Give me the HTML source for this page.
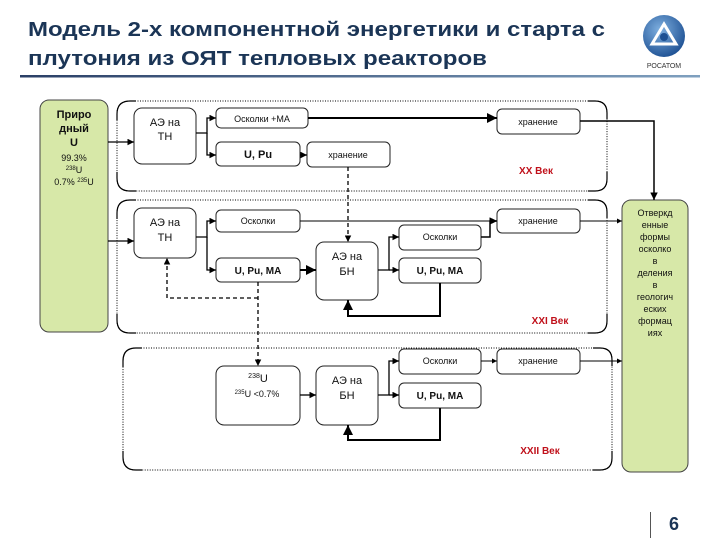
<!DOCTYPE html>
<html><head><meta charset="utf-8"><style>
body{margin:0;width:720px;height:540px;background:#fff;overflow:hidden}
svg{display:block}
text{font-family:"Liberation Sans","DejaVu Sans",sans-serif}
</style></head><body>
<svg width="720" height="540" viewBox="0 0 720 540" xmlns="http://www.w3.org/2000/svg">
<defs>
<marker id="a" viewBox="0 0 10 10" refX="10" refY="5" markerWidth="5" markerHeight="5" orient="auto"><path d="M0,0L10,5L0,10z" fill="#000"/></marker>
<linearGradient id="g" x1="0" x2="1"><stop offset="0" stop-color="#2a3f66"/><stop offset="1" stop-color="#7fa0bf"/></linearGradient>
<radialGradient id="lg" cx="0.4" cy="0.35" r="0.7"><stop offset="0" stop-color="#7fb0e0"/><stop offset="1" stop-color="#1c4f92"/></radialGradient>
</defs>
<text x="28" y="36" font-size="20" font-weight="bold" fill="#1b3556" textLength="577" lengthAdjust="spacingAndGlyphs">Модель 2-х компонентной энергетики и старта с</text>
<text x="28" y="65" font-size="20" font-weight="bold" fill="#1b3556" textLength="459" lengthAdjust="spacingAndGlyphs">плутония из ОЯТ тепловых реакторов</text>
<rect x="20" y="75" width="680" height="2.5" fill="url(#g)"/>
<circle cx="664" cy="36" r="21" fill="url(#lg)"/>
<path d="M664,24 L676,44 L652,44 Z" fill="none" stroke="#fff" stroke-width="3"/>
<circle cx="664" cy="37" r="4" fill="#1c4f92"/>
<text x="664" y="68" font-size="7" text-anchor="middle" fill="#333">РОСАТОМ</text>

<g fill="none" stroke="#000" stroke-width="1" stroke-dasharray="1,1.5">
<path d="M130,101 H595 Q607,101 607,113 V179 Q607,191 595,191 H130 Q117,191 117,178 V114 Q117,101 130,101Z"/>
<path d="M130,200 H595 Q607,200 607,212 V321 Q607,333 595,333 H130 Q117,333 117,320 V213 Q117,200 130,200Z"/>
<path d="M136,348 H600 Q612,348 612,360 V458 Q612,470 600,470 H136 Q123,470 123,457 V361 Q123,348 136,348Z"/>
</g>
<g fill="none" stroke="#000" stroke-width="1.2">
<path d="M117,120 V114 Q117,101 130,101 H136"/>
<path d="M117,172 V178 Q117,191 130,191 H136"/>
<path d="M588,101 H595 Q607,101 607,113 V119"/>
<path d="M607,172 V179 Q607,191 595,191 H588"/>
<path d="M117,219 V213 Q117,200 130,200 H136"/>
<path d="M117,314 V320 Q117,333 130,333 H136"/>
<path d="M588,200 H595 Q607,200 607,212 V218"/>
<path d="M607,314 V321 Q607,333 595,333 H588"/>
<path d="M123,367 V361 Q123,348 136,348 H142"/>
<path d="M123,451 V457 Q123,470 136,470 H142"/>
<path d="M593,348 H600 Q612,348 612,360 V366"/>
<path d="M612,451 V458 Q612,470 600,470 H593"/>
</g>
<rect x="40" y="100" width="68" height="232" rx="9" fill="#d7e8a8" stroke="#444"/>
<rect x="622" y="200" width="66" height="272" rx="9" fill="#d7e8a8" stroke="#444"/>

<g fill="#fff" stroke="#222" stroke-width="1">
<rect x="134" y="108" width="62" height="56" rx="8"/>
<rect x="216" y="108" width="92" height="20" rx="5"/>
<rect x="216" y="142" width="84" height="24" rx="5"/>
<rect x="307" y="142" width="83" height="25" rx="5"/>
<rect x="497" y="109" width="83" height="25" rx="5"/>
<rect x="134" y="208" width="62" height="50" rx="8"/>
<rect x="216" y="210" width="84" height="22" rx="5"/>
<rect x="216" y="258" width="84" height="24" rx="5"/>
<rect x="316" y="242" width="62" height="58" rx="8"/>
<rect x="399" y="225" width="82" height="25" rx="5"/>
<rect x="399" y="258" width="82" height="25" rx="5"/>
<rect x="497" y="209" width="83" height="24" rx="5"/>
<rect x="216" y="366" width="84" height="59" rx="8"/>
<rect x="316" y="366" width="62" height="59" rx="8"/>
<rect x="399" y="349" width="82" height="25" rx="5"/>
<rect x="399" y="383" width="82" height="25" rx="5"/>
<rect x="497" y="349" width="83" height="25" rx="5"/>
</g>

<g fill="none" stroke="#000" stroke-width="1.3" marker-end="url(#a)">
<path d="M108,142 H134"/>
<path d="M108,241 H134"/>
<path d="M196,133 H207 V118 H216"/>
<path d="M207,133 V155 H216"/>
<path d="M308,118 H497" stroke-width="2"/>
<path d="M300,155 H307"/>
<path d="M580,121 H654 V200" stroke-width="1.5"/>
<path d="M300,221 H490 V221 H497" stroke-width="1"/>
<path d="M481,237 H490 V221 H497" stroke-width="1.5"/>
<path d="M580,221 H622" stroke-width="1"/>
<path d="M196,237 H207 V221 H216"/>
<path d="M207,237 V270 H216"/>
<path d="M300,270 H316" stroke-width="2"/>
<path d="M378,270 H389 V237 H399"/>
<path d="M389,270 H399"/>
<path d="M440,283 V316 H348 V300" stroke-width="2"/>
<path d="M300,395 H316"/>
<path d="M378,395 H389 V361 H399"/>
<path d="M389,395 H399"/>
<path d="M440,408 V440 H348 V425" stroke-width="2"/>
<path d="M481,361 H497" stroke-width="1"/>
<path d="M580,361 H622" stroke-width="1"/>
</g>
<g fill="none" stroke="#000" stroke-width="1.3" stroke-dasharray="4,3">
<path d="M348,167 V242" marker-end="url(#a)"/>
<path d="M258,282 V366" marker-end="url(#a)"/>
<path d="M258,298 H167 V258" marker-end="url(#a)"/>
</g>

<g font-size="10" text-anchor="middle" fill="#111">
<text x="74" y="118" font-weight="bold" font-size="11">Приро</text>
<text x="74" y="132" font-weight="bold" font-size="11">дный</text>
<text x="74" y="146" font-weight="bold" font-size="11">U</text>
<text x="74" y="161" font-size="9">99.3%</text>
<text x="74" y="173" font-size="9"><tspan font-size="6" dy="-3">238</tspan><tspan dy="3">U</tspan></text>
<text x="74" y="185" font-size="9">0.7% <tspan font-size="6" dy="-3">235</tspan><tspan dy="3">U</tspan></text>
<text x="165" y="126" font-size="11">АЭ на</text><text x="165" y="140" font-size="11">ТН</text>
<text x="262" y="122" font-size="9">Осколки +МА</text>
<text x="258" y="158" font-size="11" font-weight="bold">U, Pu</text>
<text x="348" y="158" font-size="9">хранение</text>
<text x="538" y="125" font-size="9">хранение</text>
<text x="536" y="174" font-size="10" font-weight="bold" fill="#c0101a">XX Век</text>
<text x="165" y="226" font-size="11">АЭ на</text><text x="165" y="241" font-size="11">ТН</text>
<text x="258" y="224" font-size="9">Осколки</text>
<text x="258" y="274" font-size="10" font-weight="bold">U, Pu, МА</text>
<text x="347" y="260" font-size="11">АЭ на</text><text x="347" y="275" font-size="11">БН</text>
<text x="440" y="240" font-size="9">Осколки</text>
<text x="440" y="274" font-size="10" font-weight="bold">U, Pu, МА</text>
<text x="538" y="224" font-size="9">хранение</text>
<text x="550" y="324" font-size="10" font-weight="bold" fill="#c0101a">XXI Век</text>
<text x="258" y="382" font-size="11"><tspan font-size="7" dy="-4">238</tspan><tspan dy="4">U</tspan></text>
<text x="257" y="397" font-size="9"><tspan font-size="6" dy="-3">235</tspan><tspan dy="3">U &lt;0.7%</tspan></text>
<text x="347" y="384" font-size="11">АЭ на</text><text x="347" y="399" font-size="11">БН</text>
<text x="440" y="364" font-size="9">Осколки</text>
<text x="440" y="399" font-size="10" font-weight="bold">U, Pu, МА</text>
<text x="538" y="364" font-size="9">хранение</text>
<text x="540" y="454" font-size="10" font-weight="bold" fill="#c0101a">XXII Век</text>
<g font-size="9">
<text x="655" y="216">Отверкд</text><text x="655" y="228">енные</text><text x="655" y="240">формы</text>
<text x="655" y="252">осколко</text><text x="655" y="264">в</text><text x="655" y="276">деления</text>
<text x="655" y="288">в</text><text x="655" y="300">геологич</text><text x="655" y="312">еских</text>
<text x="655" y="324">формац</text><text x="655" y="336">иях</text>
</g>
</g>
<rect x="650" y="512" width="1" height="26" fill="#555"/>
<text x="674" y="530" font-size="18" font-weight="bold" fill="#1b3556" text-anchor="middle">6</text>
</svg>
</body></html>
